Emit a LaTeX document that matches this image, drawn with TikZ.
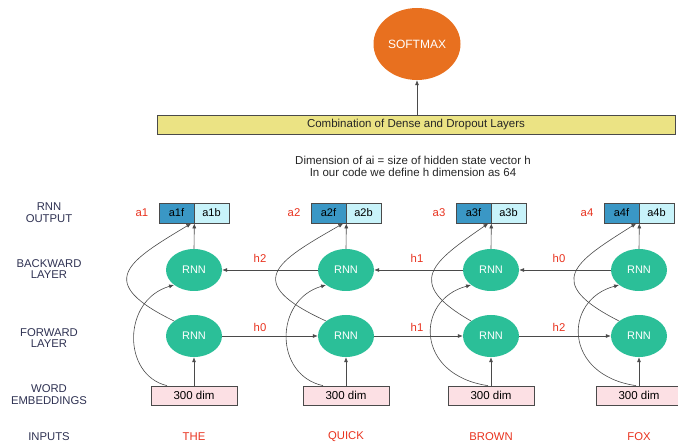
\documentclass[tikz,border=0pt]{standalone}
\usepackage{fontspec}
\setmainfont{Liberation Sans}
\usetikzlibrary{arrows.meta,shapes.geometric,calc}
\definecolor{rnn}{HTML}{2BBF98}
\definecolor{soft}{HTML}{E8701F}
\definecolor{bar}{HTML}{EBE384}
\definecolor{afc}{HTML}{3A97C5}
\definecolor{abc}{HTML}{C8F3FA}
\definecolor{emb}{HTML}{FCE0E4}
\definecolor{redt}{HTML}{E8321E}
\definecolor{navy}{HTML}{2E3152}
\definecolor{ln}{HTML}{4A4A4A}
\tikzset{
  txt/.style={text=black!85,font=\fontsize{11.5}{13}\selectfont},
  rnnnode/.style={ellipse,fill=rnn,minimum width=56pt,minimum height=42pt,inner sep=0pt,text=white,font=\fontsize{11}{12}\selectfont},
  halfbox/.style={draw=ln,line width=0.7pt,minimum width=35pt,minimum height=20pt,inner sep=0pt,font=\fontsize{11}{12}\selectfont},
  embbox/.style={draw=ln,line width=0.7pt,fill=emb,minimum width=86pt,minimum height=19pt,inner sep=0pt,font=\fontsize{11.5}{12}\selectfont},
  rowlab/.style={align=center,text=navy,font=\fontsize{11.3}{11.8}\selectfont},
  redlab/.style={text=redt,font=\fontsize{11.3}{12}\selectfont},
  conn/.style={draw=ln,line width=0.6pt,-{Latex[length=5pt,width=4pt]}},
}
\begin{document}
\begin{tikzpicture}[x=1pt,y=-1pt]
\useasboundingbox (0,0) rectangle (678,443);
% top
\node[ellipse,fill=soft,minimum width=87pt,minimum height=72pt,inner sep=0pt,text=white,font=\fontsize{12}{13}\selectfont] (soft) at (417,44) {SOFTMAX};
\node[draw=ln,line width=0.7pt,fill=bar,minimum width=518pt,minimum height=19pt,inner sep=0pt] (dense) at (416,124.5) {};
\node[txt] (densetxt) at (416,124.5) {Combination of Dense and Dropout Layers};
\draw[conn] (417,115) coordinate (dtop) -- (soft.south);
\node[txt,align=center] (dimtxt) at (413,166.5) {Dimension of ai = size of hidden state vector h\\[-1.5pt]In our code we define h dimension as 64};
% row labels
\node[rowlab] (lout) at (49,213) {RNN\\OUTPUT};
\node[rowlab] (lback) at (49,269) {BACKWARD\\LAYER};
\node[rowlab] (lfwd) at (49,338) {FORWARD\\LAYER};
\node[rowlab] (lemb) at (49,395) {WORD\\EMBEDDINGS};
\node[rowlab] (linp) at (49,437) {INPUTS};
% columns
\foreach \i/\X/\w/\d/\e/\p/\q in {1/194/THE/-27/-72/-100/-67, 2/346/QUICK/-23/-72/-105/-70, 3/491/BROWN/-3/-76/-88/-58, 4/639/FOX/-3/-76/-97/-64}{
  \node[rnnnode] (b\i) at (\X,270) {RNN};
  \node[rnnnode] (f\i) at (\X,336) {RNN};
  \node[halfbox,fill=afc] (af\i) at (\X-17.5,213) {a\i f};
  \node[halfbox,fill=abc] (ab\i) at (\X+17.5,213) {a\i b};
  \node[redlab] (al\i) at (\X-52,213) {a\i};
  \node[embbox] (e\i) at (\X,395.5) {300 dim};
  \node[redlab] (in\i) at (\X,437) {\w};
  \draw[conn] (e\i.north) -- (f\i.south);
  \draw[conn] (b\i.north) -- (af\i.south east);
  \draw[conn] ($(e\i.north)+(\d,0)$) .. controls (\X+\e,375) and (\X+\e,300) .. (b\i.south west);
  \draw[conn] (f\i.north west) .. controls (\X+\p,282) and (\X+\q,262) .. ($(af\i.south east)+(-3,0)$);
}
\foreach \a/\b in {1/2,2/3,3/4}{
  \draw[conn] (f\a.east) -- (f\b.west);
  \draw[conn] (b\b.west) -- (b\a.east);
}
\node[redlab] (hb1) at (260,258) {h2};
\node[redlab] (hb2) at (417,258) {h1};
\node[redlab] (hb3) at (559,258) {h0};
\node[redlab] (hf1) at (260,327) {h0};
\node[redlab] (hf2) at (417,327) {h1};
\node[redlab] (hf3) at (559,327) {h2};
\end{tikzpicture}
\end{document}
